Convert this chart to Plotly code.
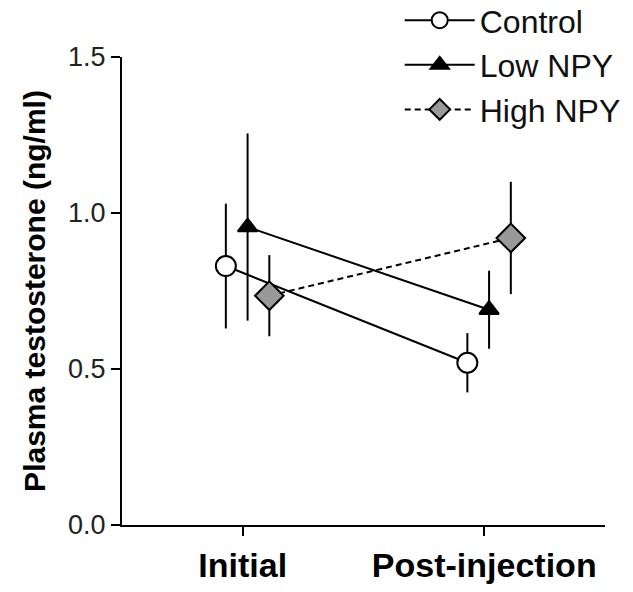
import plotly.graph_objects as go

timepoints = ["Initial", "Post-injection"]
series = ["Control", "Low NPY", "High NPY"]
means = {
    "Control": [0.83, 0.52],
    "Low NPY": [0.955, 0.69],
    "High NPY": [0.735, 0.92],
}
errors = {
    "Control": [0.20, 0.095],
    "Low NPY": [0.30, 0.125],
    "High NPY": [0.13, 0.18],
}
y_ticks = [0.0, 0.5, 1.0, 1.5]

offsets = {"Control": -0.07, "Low NPY": 0.02, "High NPY": 0.11}
styles = {
    "Control": dict(symbol="circle", size=20, color="white", dash="solid"),
    "Low NPY": dict(symbol="triangle-up", size=17, color="black", dash="solid"),
    "High NPY": dict(symbol="diamond", size=22, color="#999999", dash="6px,4px"),
}

fig = go.Figure()
for s in series:
    st = styles[s]
    xs = [i + 1 + offsets[s] for i in range(len(timepoints))]
    fig.add_trace(go.Scatter(
        x=xs, y=means[s], name=s, mode="lines+markers",
        line=dict(color="black", width=2, dash=st["dash"]),
        marker=dict(symbol=st["symbol"], size=st["size"], color=st["color"],
                    line=dict(color="black", width=2)),
        error_y=dict(type="data", array=errors[s], color="black", thickness=2, width=0),
    ))

fig.update_layout(
    width=633, height=592,
    margin=dict(l=122, r=28, t=57, b=67, autoexpand=False),
    plot_bgcolor="white", paper_bgcolor="white",
    font=dict(family="Liberation Sans, Arial", color="black"),
    showlegend=True,
    legend=dict(x=0.575, y=1.137, xanchor="left", yanchor="top",
                font=dict(size=32, color="#111111"), bgcolor="rgba(0,0,0,0)",
                tracegroupgap=0, itemwidth=70),
    xaxis=dict(range=[0.5, 2.5], tickvals=[1, 2], ticktext=timepoints,
               showline=True, linecolor="black", linewidth=2, ticks="outside",
               ticklen=9, tickwidth=2, tickcolor="black", showgrid=False, zeroline=False,
               tickfont=dict(size=34, family="Liberation Sans, Arial", weight="bold")),
    yaxis=dict(range=[0, 1.5], tickvals=y_ticks, ticktext=[f"{v:.1f}" for v in y_ticks],
               showline=True, linecolor="black", linewidth=2, ticks="outside",
               ticklen=9, tickwidth=2, tickcolor="black", showgrid=False, zeroline=False,
               tickfont=dict(size=27, color="#222222"),
               title=dict(text="<b>Plasma testosterone (ng/ml)</b>", font=dict(size=30), standoff=14)),
)

fig.write_html("out.html")
